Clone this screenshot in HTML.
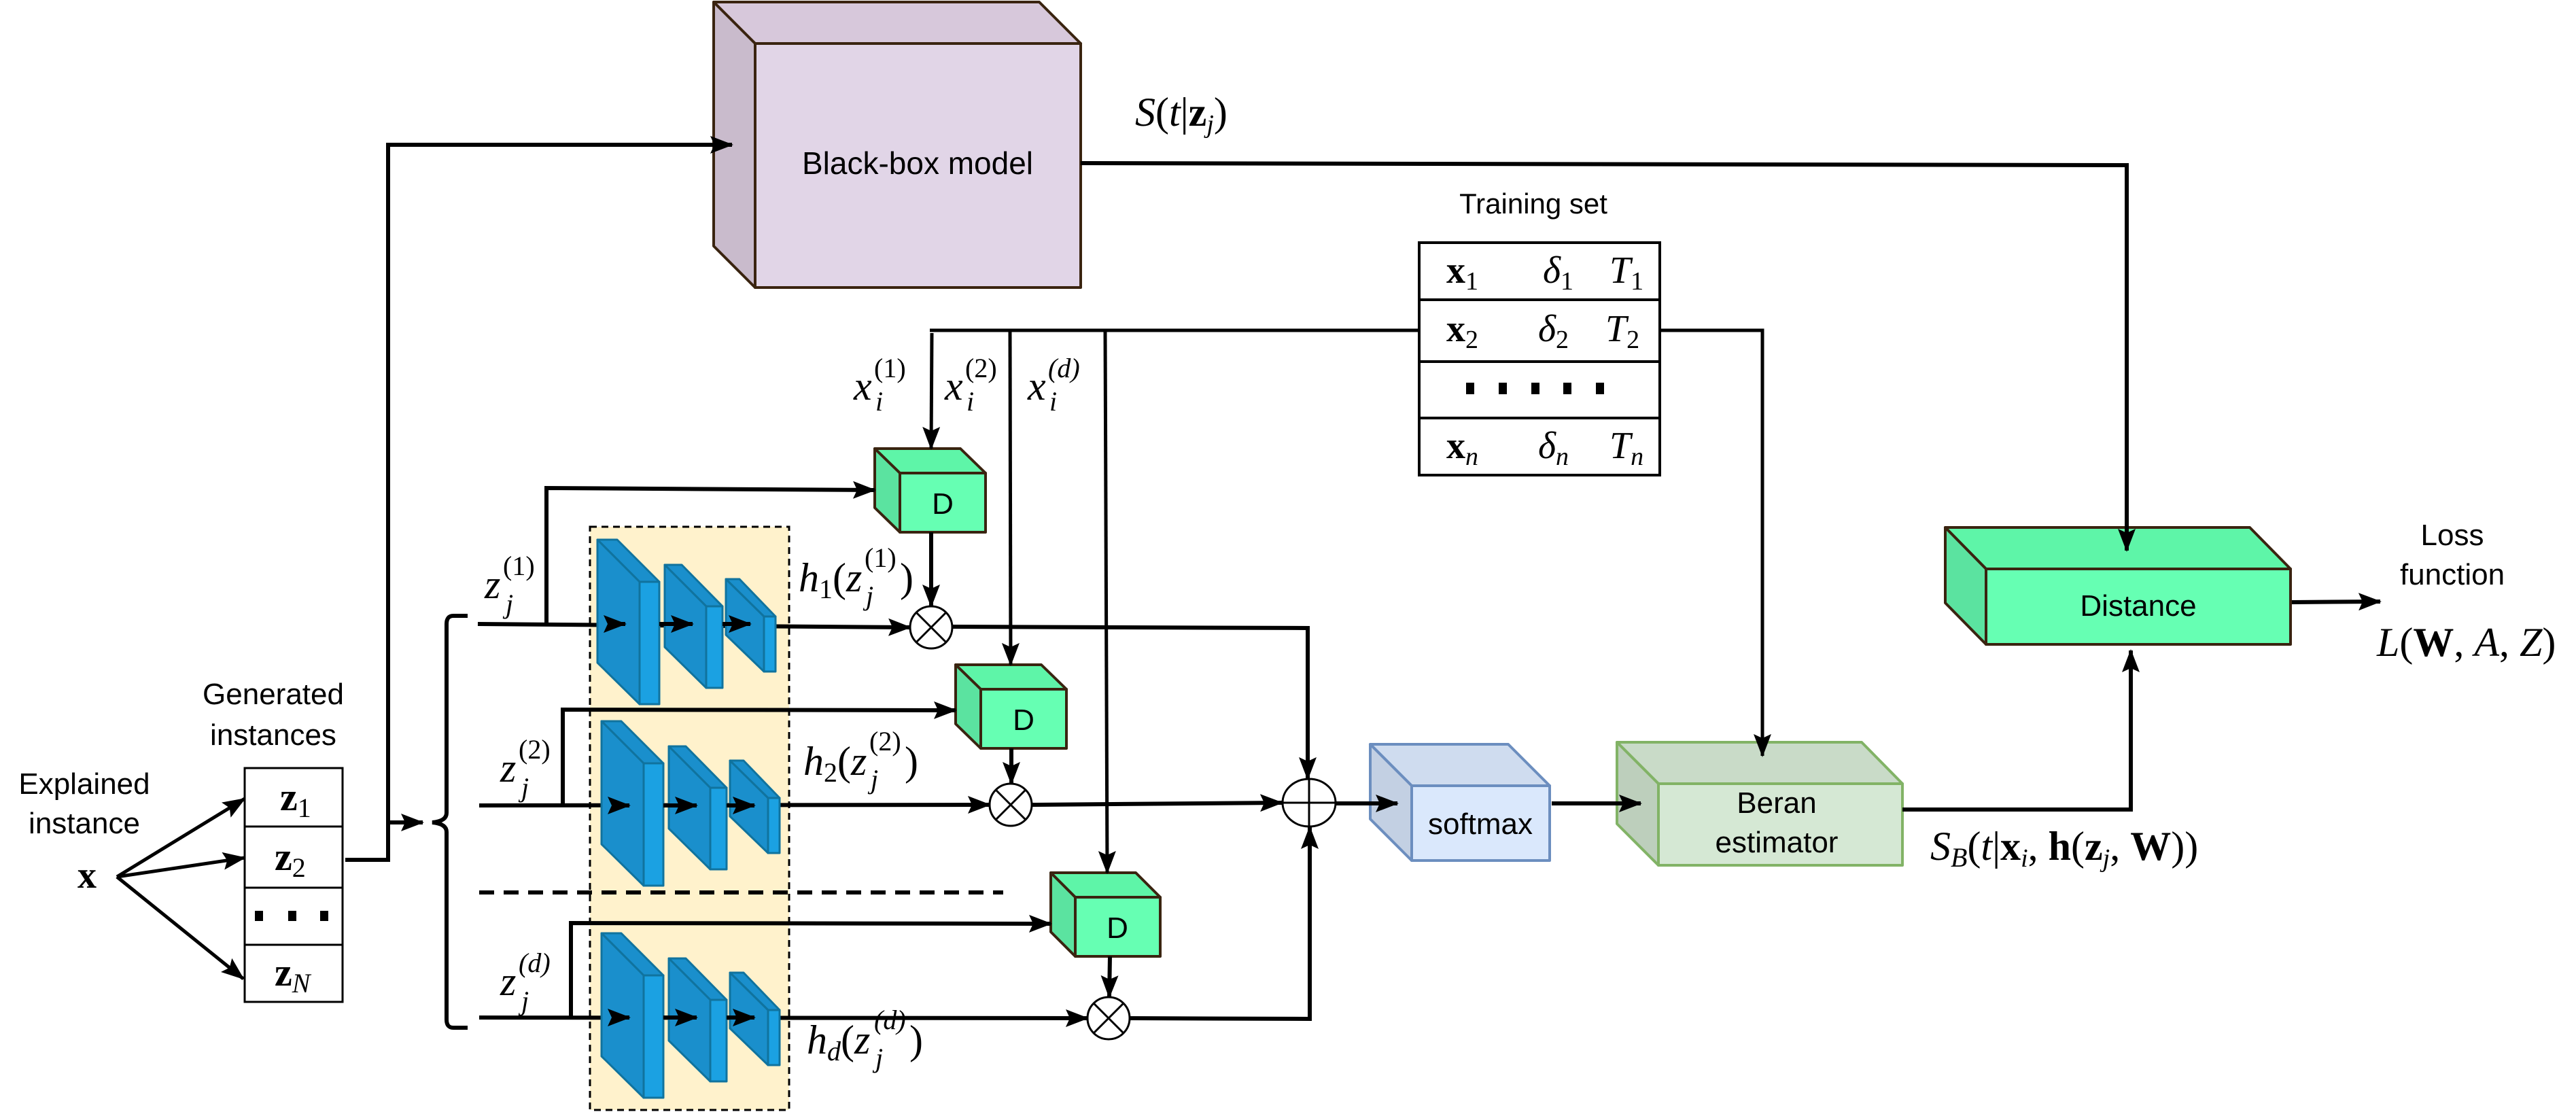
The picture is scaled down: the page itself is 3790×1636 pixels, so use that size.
<!DOCTYPE html>
<html><head><meta charset="utf-8"><style>
html,body{margin:0;padding:0;background:#fff;}
svg{display:block;}
.s{font-family:"Liberation Sans",sans-serif;fill:#000;}
.m{font-family:"Liberation Serif",serif;fill:#000;font-style:italic;}
.b{font-family:"Liberation Serif",serif;font-weight:bold;fill:#000;}
</style></head><body>
<svg width="3790" height="1636" viewBox="0 0 3790 1636" xmlns="http://www.w3.org/2000/svg">
<defs>
<marker id="a" markerUnits="userSpaceOnUse" markerWidth="34" markerHeight="26" refX="32" refY="13" orient="auto"><path d="M0,0 L34,13 L0,26 L6,13 Z" fill="#000"/></marker>
</defs>

<!-- yellow region -->
<rect x="868" y="775" width="293" height="858" fill="#fff2cc" stroke="#000" stroke-width="3" stroke-dasharray="10 7"/>

<!-- Black box -->
<g stroke="#3a2410" stroke-width="4" stroke-linejoin="round">
<polygon points="1050,3 1529,3 1590,64 1111,64" fill="#d7c8db"/>
<polygon points="1050,3 1111,64 1111,423 1050,362" fill="#c9bbcc"/>
<rect x="1111" y="64" width="479" height="359" fill="#e1d5e7"/>
</g>
<text class="s" x="1350" y="256" font-size="46" text-anchor="middle">Black-box model</text>

<!-- Training table -->
<g fill="#fff" stroke="#000" stroke-width="4">
<rect x="2088" y="357" width="354" height="342"/>
<line x1="2088" y1="441" x2="2442" y2="441"/><line x1="2088" y1="532" x2="2442" y2="532"/><line x1="2088" y1="615" x2="2442" y2="615"/>
</g>
<text class="s" x="2256" y="314" font-size="42" text-anchor="middle">Training set</text>
<g font-size="56">
<text x="2128" y="416"><tspan class="b">x</tspan><tspan font-family="Liberation Serif" font-size="38" dy="10">1</tspan></text>
<text x="2270" y="416" class="m">δ<tspan font-style="normal" font-size="38" dy="10">1</tspan></text>
<text x="2368" y="416" class="m">T<tspan font-style="normal" font-size="38" dy="10">1</tspan></text>
<text x="2128" y="502"><tspan class="b">x</tspan><tspan font-family="Liberation Serif" font-size="38" dy="10">2</tspan></text>
<text x="2263" y="502" class="m">δ<tspan font-style="normal" font-size="38" dy="10">2</tspan></text>
<text x="2362" y="502" class="m">T<tspan font-style="normal" font-size="38" dy="10">2</tspan></text>
<text x="2128" y="674"><tspan class="b">x</tspan><tspan class="m" font-size="38" dy="10">n</tspan></text>
<text x="2263" y="674" class="m">δ<tspan font-size="38" dy="10">n</tspan></text>
<text x="2368" y="674" class="m">T<tspan font-size="38" dy="10">n</tspan></text>
</g>
<g fill="#000"><rect x="2157" y="563" width="12" height="17"/><rect x="2205" y="563" width="12" height="17"/><rect x="2253" y="563" width="12" height="17"/><rect x="2300" y="563" width="12" height="17"/><rect x="2348" y="563" width="12" height="17"/></g>

<!-- left side -->
<text class="s" x="124" y="1168" font-size="44" text-anchor="middle">Explained</text>
<text class="s" x="124" y="1226" font-size="44" text-anchor="middle">instance</text>
<text class="b" x="128" y="1306" font-size="56" text-anchor="middle">x</text>
<text class="s" x="402" y="1036" font-size="44" text-anchor="middle">Generated</text>
<text class="s" x="402" y="1096" font-size="44" text-anchor="middle">instances</text>
<g stroke="#000" stroke-width="5" fill="none">
<line x1="172" y1="1290" x2="360" y2="1175" marker-end="url(#a)"/>
<line x1="172" y1="1290" x2="360" y2="1262" marker-end="url(#a)"/>
<line x1="172" y1="1290" x2="358" y2="1440" marker-end="url(#a)"/>
</g>
<g fill="#fff" stroke="#000" stroke-width="3">
<rect x="360" y="1130" width="144" height="344"/>
<line x1="360" y1="1216" x2="504" y2="1216"/><line x1="360" y1="1306" x2="504" y2="1306"/><line x1="360" y1="1390" x2="504" y2="1390"/>
</g>
<g font-size="58">
<text x="412" y="1192"><tspan class="b">z</tspan><tspan font-family="Liberation Serif" font-size="40" dy="10">1</tspan></text>
<text x="404" y="1280"><tspan class="b">z</tspan><tspan font-family="Liberation Serif" font-size="40" dy="10">2</tspan></text>
<text x="404" y="1450"><tspan class="b">z</tspan><tspan class="m" font-size="40" dy="10">N</tspan></text>
</g>
<g fill="#000"><rect x="375" y="1340" width="12" height="15"/><rect x="424" y="1340" width="12" height="15"/><rect x="471" y="1340" width="12" height="15"/></g>

<!-- D boxes -->
<g stroke="#3a2410" stroke-width="4" stroke-linejoin="round">
<polygon points="1287,660 1413,660 1450,696 1324,696" fill="#5ef5a8"/>
<polygon points="1287,660 1324,696 1324,783 1287,747" fill="#5be3a0"/>
<rect x="1324" y="696" width="126" height="87" fill="#66ffb3"/>
<polygon points="1406,978 1532,978 1569,1014 1443,1014" fill="#5ef5a8"/>
<polygon points="1406,978 1443,1014 1443,1101 1406,1065" fill="#5be3a0"/>
<rect x="1443" y="1014" width="126" height="87" fill="#66ffb3"/>
<polygon points="1546,1284 1671,1284 1707,1320 1582,1320" fill="#5ef5a8"/>
<polygon points="1546,1284 1582,1320 1582,1407 1546,1371" fill="#5be3a0"/>
<rect x="1582" y="1320" width="125" height="87" fill="#66ffb3"/>
</g>
<g class="s" font-size="44" text-anchor="middle">
<text x="1387" y="756">D</text><text x="1506" y="1074">D</text><text x="1644" y="1380">D</text>
</g>

<!-- softmax -->
<g stroke="#6c8ebf" stroke-width="4" stroke-linejoin="round">
<polygon points="2016,1095 2219,1095 2280,1156 2077,1156" fill="#cfdcef"/>
<polygon points="2016,1095 2077,1156 2077,1266 2016,1205" fill="#c3d0e3"/>
<rect x="2077" y="1156" width="203" height="110" fill="#dae8fc"/>
</g>
<text class="s" x="2178" y="1227" font-size="44" text-anchor="middle">softmax</text>

<!-- Beran -->
<g stroke="#82b366" stroke-width="4" stroke-linejoin="round">
<polygon points="2379,1092 2739,1092 2799,1153 2440,1153" fill="#c9dbc8"/>
<polygon points="2379,1092 2440,1153 2440,1273 2379,1212" fill="#bdcfbc"/>
<rect x="2440" y="1153" width="359" height="120" fill="#d5e8d4"/>
</g>
<text class="s" x="2614" y="1196" font-size="44" text-anchor="middle">Beran</text>
<text class="s" x="2614" y="1254" font-size="44" text-anchor="middle">estimator</text>

<!-- Distance -->
<g stroke="#3a2410" stroke-width="4" stroke-linejoin="round">
<polygon points="2862,776 3310,776 3370,837 2922,837" fill="#5ef5a8"/>
<polygon points="2862,776 2922,837 2922,948 2862,887" fill="#5be3a0"/>
<rect x="2922" y="837" width="448" height="111" fill="#66ffb3"/>
</g>
<text class="s" x="3146" y="906" font-size="44" text-anchor="middle">Distance</text>

<text class="s" x="3608" y="802" font-size="44" text-anchor="middle">Loss</text>
<text class="s" x="3608" y="860" font-size="44" text-anchor="middle">function</text>

<!-- connectors -->
<g stroke="#000" stroke-width="6" fill="none">
<polyline points="508,1265 571,1265 571,213 1077,213" marker-end="url(#a)"/>
<line x1="571" y1="1210" x2="622" y2="1210" marker-end="url(#a)"/>
<path d="M688,906 L667,906 Q657,906 657,918 L657,1196 Q657,1208 636,1210 Q657,1212 657,1224 L657,1500 Q657,1512 667,1512 L688,1512"/>
<polyline points="804,918 804,718 1287,721" marker-end="url(#a)"/>
<polyline points="828,1185 828,1044 1406,1045" marker-end="url(#a)"/>
<polyline points="840,1497 840,1358 1546,1359" marker-end="url(#a)"/>
<line x1="703" y1="918" x2="1339" y2="923" marker-end="url(#a)"/>
<line x1="705" y1="1185" x2="1456" y2="1184" marker-end="url(#a)"/>
<line x1="705" y1="1497" x2="1600" y2="1498" marker-end="url(#a)"/>
<line x1="1370" y1="783" x2="1370" y2="892" marker-end="url(#a)"/>
<line x1="1488" y1="1101" x2="1488" y2="1153" marker-end="url(#a)"/>
<line x1="1633" y1="1407" x2="1632" y2="1467" marker-end="url(#a)"/>
<polyline points="1401,922 1924,924 1924,1146" marker-end="url(#a)"/>
<line x1="1518" y1="1184" x2="1886" y2="1181" marker-end="url(#a)"/>
<polyline points="1662,1498 1927,1499 1927,1217" marker-end="url(#a)"/>
<line x1="1965" y1="1182" x2="2056" y2="1182" marker-end="url(#a)"/>
<line x1="2283" y1="1182" x2="2414" y2="1182" marker-end="url(#a)"/>
<polyline points="1590,240 3129,243 3129,810" marker-end="url(#a)"/>
<polyline points="2799,1191 3135,1191 3135,957" marker-end="url(#a)"/>
<line x1="3372" y1="886" x2="3502" y2="885" marker-end="url(#a)"/>
</g>
<line x1="705" y1="1313" x2="1476" y2="1313" stroke="#000" stroke-width="6" stroke-dasharray="22 14"/>
<g stroke="#000" stroke-width="5" fill="none">
<line x1="1368" y1="486" x2="2088" y2="486"/>
<polyline points="2442,486 2593,486 2593,1112" marker-end="url(#a)"/>
<line x1="1371" y1="490" x2="1370" y2="660" marker-end="url(#a)"/>
<line x1="1486" y1="486" x2="1487" y2="978" marker-end="url(#a)"/>
<line x1="1626" y1="486" x2="1629" y2="1284" marker-end="url(#a)"/>
</g>

<!-- CNN blocks (over row lines) -->
<g id="cnn" stroke="#10739e" stroke-width="3" stroke-linejoin="round">
<polygon points="879,794 908,794 970,856 941,856" fill="#1a8fcc"/>
<polygon points="879,794 941,856 941,1036 879,975" fill="#1a8fcc"/>
<rect x="941" y="856" width="29" height="180" fill="#1ba1e2"/>
<polygon points="978,831 1003,831 1063,892 1039,892" fill="#1a8fcc"/>
<polygon points="978,831 1039,892 1039,1012 978,952" fill="#1a8fcc"/>
<rect x="1039" y="892" width="24" height="120" fill="#1ba1e2"/>
<polygon points="1068,852 1088,852 1141,907 1124,907" fill="#1a8fcc"/>
<polygon points="1068,852 1124,907 1124,988 1068,934" fill="#1a8fcc"/>
<rect x="1124" y="907" width="17" height="81" fill="#1ba1e2"/>
</g>
<use href="#cnn" transform="translate(6,267)"/>
<use href="#cnn" transform="translate(6,579)"/>
<g stroke="#000" stroke-width="6" fill="none">
<line x1="900" y1="918" x2="920" y2="918" marker-end="url(#a)"/>
<line x1="970" y1="918" x2="1019" y2="918" marker-end="url(#a)"/>
<line x1="1063" y1="918" x2="1104" y2="918" marker-end="url(#a)"/>
<line x1="906" y1="1185" x2="926" y2="1185" marker-end="url(#a)"/>
<line x1="976" y1="1185" x2="1025" y2="1185" marker-end="url(#a)"/>
<line x1="1069" y1="1185" x2="1110" y2="1185" marker-end="url(#a)"/>
<line x1="906" y1="1497" x2="926" y2="1497" marker-end="url(#a)"/>
<line x1="976" y1="1497" x2="1025" y2="1497" marker-end="url(#a)"/>
<line x1="1069" y1="1497" x2="1110" y2="1497" marker-end="url(#a)"/>
</g>

<g stroke="#000" stroke-width="3" fill="#fff">
<circle cx="1370" cy="923" r="31"/><path d="M1348,901 L1392,945 M1392,901 L1348,945" fill="none"/>
<circle cx="1487" cy="1184" r="31"/><path d="M1465,1162 L1509,1206 M1509,1162 L1465,1206" fill="none"/>
<circle cx="1631" cy="1498" r="31"/><path d="M1609,1476 L1653,1520 M1653,1476 L1609,1520" fill="none"/>
<ellipse cx="1926" cy="1181" rx="39" ry="35"/><path d="M1887,1181 L1965,1181 M1926,1146 L1926,1216" fill="none"/>
</g>

<!-- z labels -->
<g class="m" font-size="60">
<text x="713" y="880">z</text><text x="740" y="846" font-size="40" font-style="normal">(1)</text><text x="744" y="902" font-size="40">j</text>
<text x="736" y="1150">z</text><text x="763" y="1116" font-size="40" font-style="normal">(2)</text><text x="767" y="1172" font-size="40">j</text>
<text x="736" y="1464">z</text><text x="763" y="1430" font-size="40">(d)</text><text x="767" y="1486" font-size="40">j</text>
</g>
<!-- x_i labels -->
<g class="m" font-size="60">
<text x="1256" y="588">x</text><text x="1286" y="555" font-size="40" font-style="normal">(1)</text><text x="1288" y="604" font-size="40">i</text>
<text x="1390" y="588">x</text><text x="1420" y="555" font-size="40" font-style="normal">(2)</text><text x="1422" y="604" font-size="40">i</text>
<text x="1512" y="588">x</text><text x="1542" y="555" font-size="40">(d)</text><text x="1544" y="604" font-size="40">i</text>
</g>
<!-- h labels -->
<g class="m" font-size="60">
<text x="1175" y="870">h<tspan font-style="normal" font-size="40" dy="10">1</tspan><tspan font-style="normal" dy="-10">(</tspan>z</text>
<text x="1272" y="834" font-size="40" font-style="normal">(1)</text><text x="1274" y="890" font-size="40">j</text><text x="1324" y="870" font-style="normal">)</text>
<text x="1182" y="1140">h<tspan font-style="normal" font-size="40" dy="10">2</tspan><tspan font-style="normal" dy="-10">(</tspan>z</text>
<text x="1279" y="1104" font-size="40" font-style="normal">(2)</text><text x="1281" y="1160" font-size="40">j</text><text x="1331" y="1140" font-style="normal">)</text>
<text x="1187" y="1550">h<tspan font-size="40" dy="10">d</tspan><tspan font-style="normal" dy="-10">(</tspan>z</text>
<text x="1286" y="1514" font-size="40">(d)</text><text x="1288" y="1570" font-size="40">j</text><text x="1338" y="1550" font-style="normal">)</text>
</g>

<!-- math labels -->
<text class="m" x="1670" y="185" font-size="60">S<tspan font-style="normal">(</tspan>t<tspan font-style="normal">|</tspan><tspan font-style="normal" font-weight="bold">z</tspan><tspan font-size="38" dy="10">j</tspan><tspan font-style="normal" dy="-10">)</tspan></text>
<text class="m" x="2840" y="1265" font-size="60">S<tspan font-size="40" dy="10">B</tspan><tspan font-style="normal" dy="-10">(</tspan>t<tspan font-style="normal">|</tspan><tspan font-style="normal" font-weight="bold">x</tspan><tspan font-size="38" dy="10">i</tspan><tspan font-style="normal" dy="-10">, </tspan><tspan font-style="normal" font-weight="bold">h</tspan><tspan font-style="normal">(</tspan><tspan font-style="normal" font-weight="bold">z</tspan><tspan font-size="38" dy="10">j</tspan><tspan font-style="normal" dy="-10">, </tspan><tspan font-style="normal" font-weight="bold">W</tspan><tspan font-style="normal">))</tspan></text>
<text class="m" x="3497" y="965" font-size="60">L<tspan font-style="normal">(</tspan><tspan font-style="normal" font-weight="bold">W</tspan><tspan font-style="normal">, </tspan>A<tspan font-style="normal">, </tspan>Z<tspan font-style="normal">)</tspan></text>
</svg>
</body></html>
